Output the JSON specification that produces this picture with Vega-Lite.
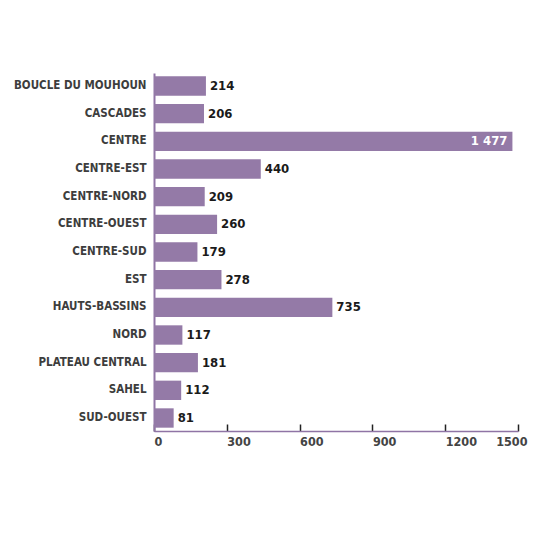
{
  "$schema": "https://vega.github.io/schema/vega-lite/v6.json",
  "autosize": {"type": "none"},
  "padding": {"left": 154, "top": 73, "right": 16, "bottom": 109},
  "width": 364,
  "height": 358,
  "background": "white",
  "config": {
    "view": {"stroke": null},
    "locale": {"number": {"decimal": ",", "thousands": " ", "grouping": [3], "currency": ["", " €"]}},
    "font": "DejaVu Sans Condensed, Roboto, sans-serif"
  },
  "data": {
    "values": [
      {"region": "BOUCLE DU MOUHOUN", "value": 214},
      {"region": "CASCADES", "value": 206},
      {"region": "CENTRE", "value": 1477},
      {"region": "CENTRE-EST", "value": 440},
      {"region": "CENTRE-NORD", "value": 209},
      {"region": "CENTRE-OUEST", "value": 260},
      {"region": "CENTRE-SUD", "value": 179},
      {"region": "EST", "value": 278},
      {"region": "HAUTS-BASSINS", "value": 735},
      {"region": "NORD", "value": 117},
      {"region": "PLATEAU CENTRAL", "value": 181},
      {"region": "SAHEL", "value": 112},
      {"region": "SUD-OUEST", "value": 81}
    ]
  },
  "encoding": {
    "y": {
      "field": "region", "type": "nominal", "sort": null,
      "scale": {"paddingInner": 0.3, "paddingOuter": 0.12},
      "axis": {
        "title": null, "ticks": false,
        "domainColor": "#8f74a5", "domainWidth": 2,
        "labelFont": "DejaVu Sans Condensed, Roboto, sans-serif", "labelFontWeight": "bold", "labelFontSize": 11.5,
        "labelColor": "#3d3d3d", "labelPadding": 8
      }
    },
    "x": {
      "field": "value", "type": "quantitative",
      "scale": {"domain": [0, 1500]},
      "axis": {
        "title": null, "grid": false, "values": [0, 300, 600, 900, 1200, 1500], "format": "d",
        "domainColor": "#8f74a5", "domainWidth": 1.5,
        "tickColor": "#222222", "tickWidth": 1.5, "tickSize": -7,
        "labelFont": "DejaVu Sans Condensed, Roboto, sans-serif", "labelFontWeight": "bold", "labelFontSize": 12.5,
        "labelColor": "#444444", "labelPadding": 11,
        "labelAlign": {"condition": {"test": "datum.value == 1500", "value": "right"}, "value": "left"},
        "labelOffset": {"condition": {"test": "datum.value == 1500", "value": 9}, "value": 0},
        "labelFlush": false
      }
    }
  },
  "layer": [
    {"mark": {"type": "bar", "color": "#947aa7"}},
    {
      "transform": [{"filter": "datum.value < 1000"}],
      "mark": {"type": "text", "align": "left", "baseline": "middle", "dx": 4, "font": "DejaVu Sans Condensed, Roboto, sans-serif", "fontWeight": "bold", "fontSize": 13, "color": "#1a1a1a"},
      "encoding": {"text": {"field": "value", "type": "quantitative", "format": ",d"}}
    },
    {
      "transform": [{"filter": "datum.value >= 1000"}],
      "mark": {"type": "text", "align": "right", "baseline": "middle", "dx": -5, "font": "DejaVu Sans Condensed, Roboto, sans-serif", "fontWeight": "bold", "fontSize": 13, "color": "white"},
      "encoding": {"text": {"field": "value", "type": "quantitative", "format": ",d"}}
    }
  ]
}
